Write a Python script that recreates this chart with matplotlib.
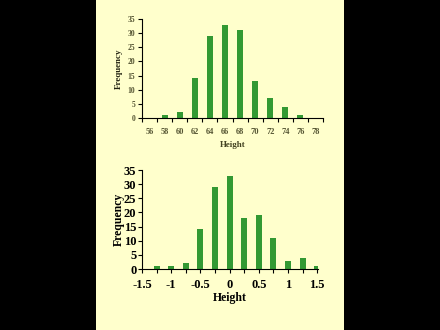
import matplotlib
matplotlib.use("Agg")
import matplotlib.pyplot as plt
from matplotlib.patches import Rectangle

# Raw heights (inches) histogram
height_bins = ["56", "58", "60", "62", "64", "66", "68", "70", "72", "74", "76", "78"]
height_freq = [0, 1, 2, 14, 29, 33, 31, 13, 7, 4, 1, 0]

# Standardised heights histogram
std_bins = [-1.25, -1.0, -0.75, -0.5, -0.25, 0.0, 0.25, 0.5, 0.75, 1.0, 1.25, 1.5]
std_freq = [1, 1, 2, 14, 29, 33, 18, 19, 11, 3, 4, 1]
std_ticklabels = ["-1.5", "-1", "-0.5", "0", "0.5", "1", "1.5"]
yticks = [0, 5, 10, 15, 20, 25, 30, 35]

BAR = "#339933"
PANEL = "#FFFFCC"
SERIF = ["Liberation Serif", "DejaVu Serif"]

W, H = 440, 330
fig = plt.figure(figsize=(W / 100, H / 100), dpi=100, facecolor="black")

# cream slide panel behind both charts
bg = fig.add_axes([0, 0, 1, 1], zorder=-10)
bg.set_xlim(0, W)
bg.set_ylim(H, 0)
bg.axis("off")
bg.add_patch(Rectangle((96, 0), 248, H, facecolor=PANEL, edgecolor="none"))


def box(l, r, t, b):
    return [l / W, 1 - b / H, (r - l) / W, (b - t) / H]


# ---- top chart: raw heights ----
ax1 = fig.add_axes(box(142, 323, 19, 118))
ax1.set_facecolor("none")
x1 = range(len(height_bins))
ax1.bar(x1, height_freq, width=0.4, color=BAR)
ax1.set_xlim(-0.5, len(height_bins) - 0.5)
ax1.set_ylim(0, 35)
ax1.set_yticks(yticks)
ax1.set_xticks([i - 0.5 for i in range(len(height_bins) + 1)], minor=False)
ax1.set_xticklabels([])
ax1.set_xticks(list(x1), minor=True)
ax1.set_xticklabels(height_bins, minor=True)
ax1.tick_params(axis="x", which="major", length=3, width=0.8, direction="out")
ax1.tick_params(axis="x", which="minor", length=0, pad=7,
                labelsize=6, labelcolor="#555533")
ax1.tick_params(axis="y", length=3, width=0.8, direction="out",
                labelsize=5.5, labelcolor="#555533", pad=2)
for lab in ax1.get_xticklabels(minor=True) + ax1.get_yticklabels():
    lab.set_family(SERIF)
    lab.set_fontweight("bold")
for s in ("top", "right"):
    ax1.spines[s].set_visible(False)
for s in ("left", "bottom"):
    ax1.spines[s].set_linewidth(0.8)
ax1.set_ylabel("Frequency", family=SERIF, fontweight="bold", fontsize=6.5,
               color="#222211", labelpad=3)
ax1.set_xlabel("Height", family=SERIF, fontweight="bold", fontsize=6.5,
               color="#444422", labelpad=4)

# ---- bottom chart: standardised heights ----
ax2 = fig.add_axes(box(142, 317.8, 170, 269))
ax2.set_facecolor("none")
ax2.bar(std_bins, std_freq, width=0.1, color=BAR)
ax2.set_xlim(-1.5, 1.51)
ax2.set_ylim(0, 35)
ax2.set_yticks(yticks)
ax2.set_xticks([float(t) for t in std_ticklabels])
ax2.set_xticklabels(std_ticklabels)
ax2.set_xticks(std_bins, minor=True)
ax2.tick_params(axis="x", which="both", length=3, width=0.8, direction="out")
ax2.tick_params(axis="x", which="major", labelsize=9, pad=4)
ax2.tick_params(axis="y", length=3, width=0.8, direction="out", labelsize=9, pad=1)
for lab in ax2.get_xticklabels() + ax2.get_yticklabels():
    lab.set_family(SERIF)
    lab.set_fontweight("bold")
for s in ("top", "right"):
    ax2.spines[s].set_visible(False)
for s in ("left", "bottom"):
    ax2.spines[s].set_linewidth(0.8)
ax2.set_ylabel("Frequency", family=SERIF, fontweight="bold", fontsize=8.5, labelpad=-1)
ax2.set_xlabel("Height", family=SERIF, fontweight="bold", fontsize=8.5, labelpad=1)

fig.savefig("out.png", dpi=100, facecolor="black")
